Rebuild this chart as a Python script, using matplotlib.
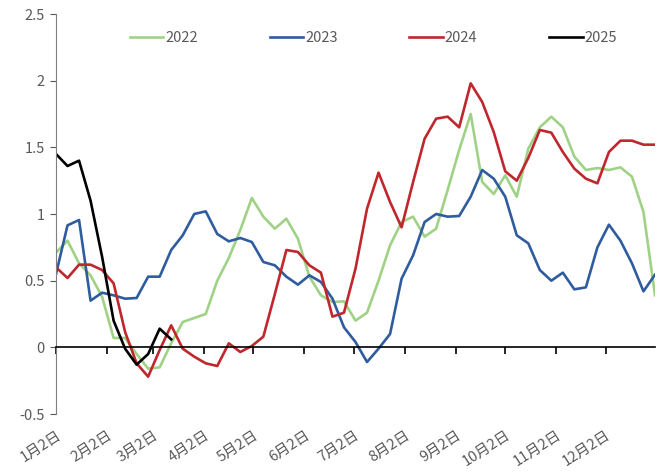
import matplotlib.pyplot as plt
from matplotlib.transforms import blended_transform_factory

plt.rcParams['font.family'] = ['Noto Sans CJK SC', 'DejaVu Sans']

# 数据（周度，x 为自 1月2日 起的周数）
v2022 = [0.71, 0.80, 0.63, 0.54, 0.38, 0.07, 0.07, -0.05, -0.16, -0.15, 0.03, 0.19, 0.22, 0.25,
         0.50, 0.67, 0.88, 1.12, 0.98, 0.89, 0.965, 0.815, 0.53, 0.39, 0.34, 0.345, 0.20,
         0.26, 0.50, 0.765, 0.94, 0.98, 0.83, 0.89, 1.18, 1.48, 1.75, 1.24, 1.15, 1.29,
         1.13, 1.49, 1.65, 1.73, 1.65, 1.43, 1.33, 1.345, 1.33, 1.35, 1.28, 1.015, 0.39]
v2023 = [0.55, 0.915, 0.955, 0.35, 0.41, 0.39, 0.365, 0.37, 0.53, 0.53, 0.73, 0.84, 1.00, 1.02,
         0.85, 0.795, 0.82, 0.79, 0.64, 0.615, 0.53, 0.47, 0.54, 0.49, 0.365, 0.15, 0.04,
         -0.11, -0.01, 0.10, 0.515, 0.69, 0.94, 1.00, 0.98, 0.985, 1.13, 1.33, 1.265, 1.13,
         0.84, 0.78, 0.58, 0.50, 0.56, 0.435, 0.45, 0.75, 0.92, 0.80, 0.63, 0.42, 0.545]
v2024 = [0.60, 0.52, 0.62, 0.62, 0.58, 0.48, 0.115, -0.12, -0.22, -0.02, 0.165, -0.01, -0.07, -0.12,
         -0.14, 0.03, -0.035, 0.01, 0.08, 0.40, 0.73, 0.715, 0.615, 0.56, 0.23, 0.26, 0.59,
         1.04, 1.31, 1.09, 0.90, 1.24, 1.565, 1.715, 1.73, 1.65, 1.98, 1.84, 1.615, 1.32,
         1.25, 1.42, 1.63, 1.61, 1.465, 1.34, 1.265, 1.23, 1.465, 1.55, 1.55, 1.52, 1.52]
v2025 = [1.45, 1.36, 1.40, 1.10, 0.68, 0.20, -0.01, -0.13, -0.05, 0.14, 0.06]

month_labels = ['1月2日', '2月2日', '3月2日', '4月2日', '5月2日', '6月2日',
                '7月2日', '8月2日', '9月2日', '10月2日', '11月2日', '12月2日']
month_days = [0, 31, 59, 90, 120, 151, 181, 212, 243, 273, 304, 334]

fig = plt.figure(figsize=(6.62, 4.73), dpi=100)
ax = fig.add_axes([56 / 662, 59 / 473, 599 / 662, 400 / 473])

series = [(v2022, '2022', '#a0d286'), (v2023, '2023', '#2f5c9f'),
          (v2024, '2024', '#c0272d'), (v2025, '2025', '#000000')]
for vals, name, col in series:
    ax.plot(range(len(vals)), vals, color=col, lw=1.9, label=name)

ax.set_xlim(0, 52)
ax.set_ylim(-0.5, 2.5)
ax.set_yticks([-0.5, 0, 0.5, 1, 1.5, 2, 2.5])
ax.set_yticklabels(['-0.5', '0', '0.5', '1', '1.5', '2', '2.5'])
ax.tick_params(axis='y', direction='out', length=4, colors='#595959', labelsize=10.5, pad=4)

# x 轴放在 0 处
ax.spines['bottom'].set_position(('data', 0))
ax.spines['bottom'].set_color('black')
ax.spines['bottom'].set_linewidth(1.2)
ax.spines['top'].set_visible(False)
ax.spines['right'].set_visible(False)
ax.spines['left'].set_color('#7f7f7f')
xt = [d / 7 for d in month_days]
ax.set_xticks(xt)
ax.set_xticklabels([])
ax.tick_params(axis='x', direction='out', length=5, width=1.2, color='black')

trans = blended_transform_factory(ax.transData, ax.transAxes)
for x, lab in zip(xt, month_labels):
    ax.text(x, -0.035, lab, transform=trans, rotation=33, ha='right', va='top',
            rotation_mode='anchor', fontsize=10.5, color='#595959')

ax.legend(loc='center', bbox_to_anchor=(0.53, 0.94), ncol=4, frameon=False,
          handlelength=2.3, handletextpad=0.15, columnspacing=4.9,
          fontsize=10.5, labelcolor='#595959')

fig.savefig('out.png', dpi=100)
